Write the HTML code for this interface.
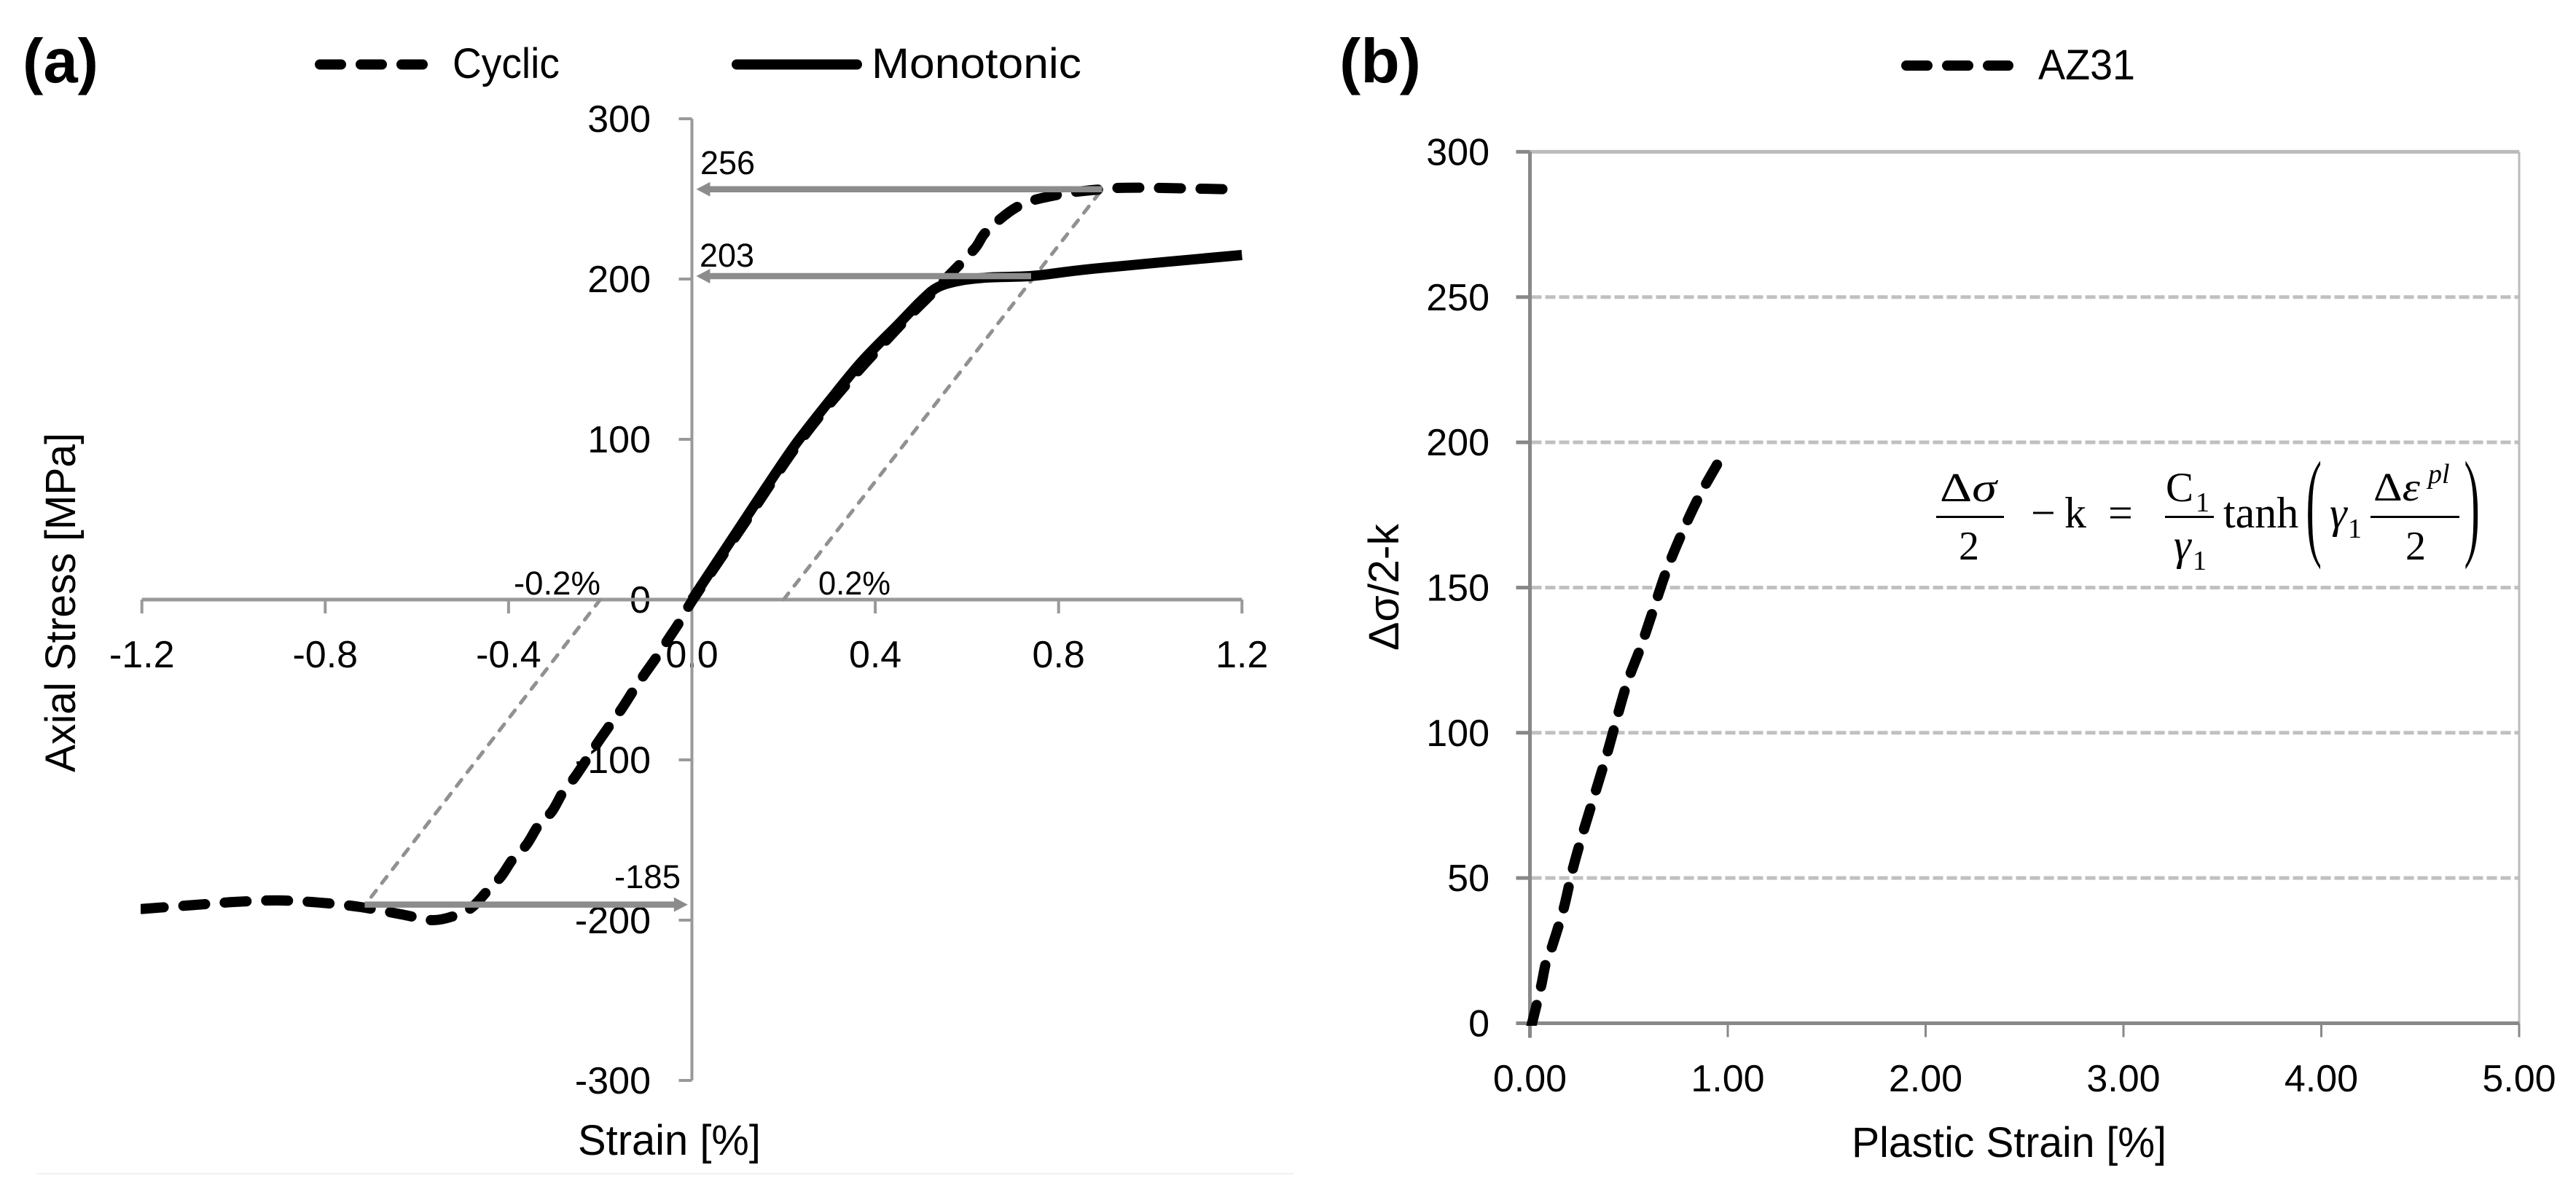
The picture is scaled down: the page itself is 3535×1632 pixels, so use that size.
<!DOCTYPE html>
<html lang="en">
<head>
<meta charset="utf-8">
<title>Axial stress-strain and plastic strain charts</title>
<style>
html,body{margin:0;padding:0;background:#fff;}
body{width:3535px;height:1632px;overflow:hidden;}
svg{display:block;}
text{font-family:"Liberation Sans",sans-serif;fill:#000;}
.eq text{font-family:"Liberation Serif",serif;}
</style>
</head>
<body>
<svg id="fig" xmlns="http://www.w3.org/2000/svg" width="3535" height="1632" viewBox="0 0 3535 1632">
  <defs>
    <clipPath id="clipCyclic"><rect x="193" y="0" width="1600" height="1632"/></clipPath>
    <clipPath id="clipAz31"><rect x="2000" y="0" width="800" height="1408"/></clipPath>
  </defs>
  <rect x="0" y="0" width="3535" height="1632" fill="#fff"/>
  <line x1="50" y1="1611" x2="1776" y2="1611" stroke="#f0f0f0" stroke-width="2"/>

  <g id="panelA"></g>
  <g id="panelB"></g>

  <text x="31" y="113" font-size="85" font-weight="700" textLength="104" lengthAdjust="spacingAndGlyphs">(a)</text>
  <text x="1838" y="113" font-size="85" font-weight="700" textLength="112" lengthAdjust="spacingAndGlyphs">(b)</text>

  <g>
    <path d="M439 88.5H580" fill="none" stroke="#000" stroke-width="14" stroke-linecap="round" stroke-dasharray="29 27"/>
    <text x="621" y="107" font-size="58" textLength="147" lengthAdjust="spacingAndGlyphs">Cyclic</text>
    <path d="M1011 88.5H1176" fill="none" stroke="#000" stroke-width="14" stroke-linecap="round"/>
    <text x="1196" y="107" font-size="58" textLength="288" lengthAdjust="spacingAndGlyphs">Monotonic</text>
  </g>
  <g>
    <path d="M2616 90H2756" fill="none" stroke="#000" stroke-width="14" stroke-linecap="round" stroke-dasharray="29 27"/>
    <text x="2797" y="109" font-size="58" textLength="133" lengthAdjust="spacingAndGlyphs">AZ31</text>
  </g>

  <text x="793" y="1585" font-size="58" textLength="251" lengthAdjust="spacingAndGlyphs">Strain [%]</text>
  <text transform="translate(103 1060) rotate(-90)" font-size="58" textLength="466" lengthAdjust="spacingAndGlyphs">Axial Stress [MPa]</text>
  <text x="2541" y="1588" font-size="58" textLength="432" lengthAdjust="spacingAndGlyphs">Plastic Strain [%]</text>
  <text transform="translate(1919 893) rotate(-90)" font-size="58" textLength="174" lengthAdjust="spacingAndGlyphs">Δσ/2-k</text>

  <text x="961" y="239" font-size="45">256</text>
  <text x="960" y="366" font-size="45">203</text>
  <text x="843" y="1219" font-size="45" textLength="91" lengthAdjust="spacingAndGlyphs">-185</text>
  <text x="705" y="816" font-size="45" textLength="119" lengthAdjust="spacingAndGlyphs">-0.2%</text>
  <text x="1123" y="816" font-size="45" textLength="99" lengthAdjust="spacingAndGlyphs">0.2%</text>

  <g class="eq">
    <text x="2662" y="688" font-size="56" textLength="78" lengthAdjust="spacingAndGlyphs">Δ<tspan font-style="italic">σ</tspan></text>
    <rect x="2657" y="708" width="93" height="3" fill="#000"/>
    <text x="2688" y="768" font-size="56">2</text>
    <text x="2787" y="724" font-size="60">−</text>
    <text x="2833" y="724" font-size="60">k</text>
    <text x="2893" y="724" font-size="60">=</text>
    <text x="2972" y="688" font-size="57">C</text>
    <text x="3013" y="702" font-size="38">1</text>
    <rect x="2971" y="708" width="67" height="3" fill="#000"/>
    <text x="2983" y="768" font-size="60" font-style="italic">γ</text>
    <text x="3009" y="782" font-size="38">1</text>
    <text x="3051" y="724" font-size="60">tanh</text>
    <text transform="translate(3164 747) scale(1.12 2.77)" font-size="60" stroke="#fff" stroke-width="0.4">(</text>
    <text x="3197" y="724" font-size="60" font-style="italic">γ</text>
    <text x="3222" y="738" font-size="38">1</text>
    <text x="3257" y="687" font-size="55" textLength="64" lengthAdjust="spacingAndGlyphs">Δ<tspan font-style="italic">ε</tspan></text>
    <text x="3332" y="663" font-size="38" font-style="italic">pl</text>
    <rect x="3253" y="708" width="122" height="3" fill="#000"/>
    <text x="3301" y="768" font-size="56">2</text>
    <text transform="translate(3381 747) scale(1.12 2.77)" font-size="60" stroke="#fff" stroke-width="0.4">)</text>
  </g>
</svg>

<script>
// ---- Panel (a) data ----
const strainTicks = [-1.2, -0.8, -0.4, 0, 0.4, 0.8, 1.2];
const strainTickLabels = ['-1.2', '-0.8', '-0.4', '0.0', '0.4', '0.8', '1.2'];
const stressTicks = [300, 200, 100, 0, -100, -200, -300];
const stressTickLabels = ['300', '200', '100', '0', '-100', '-200', '-300'];
const cyclicStrain = [-1.2, -1.085, -0.995, -0.905, -0.814, -0.723, -0.633, -0.566, -0.515, -0.48, -0.447, -0.417, -0.391, -0.361, -0.335, -0.305, -0.281, -0.256, -0.229, -0.205, -0.178, -0.153, -0.126, -0.102, -0.075, -0.05, -0.027, 0, 0.118, 0.229, 0.33, 0.451, 0.52, 0.56, 0.617, 0.644, 0.716, 0.806, 0.895, 0.968, 1.173];
const cyclicStress = [-193, -190.5, -188.6, -187.7, -189, -191.8, -196.4, -200, -197, -192, -182, -173, -162, -153, -141, -132, -120, -111, -99.5, -89, -78, -68, -56, -46, -35, -24, -14, -1, 49, 96, 132, 170, 190, 202, 219, 230, 246, 253, 256, 257, 256];
const monotonicStrain = [0, 0.0625, 0.118, 0.169, 0.229, 0.307, 0.372, 0.451, 0.502, 0.537, 0.585, 0.649, 0.744, 0.878, 1.2];
const monotonicStress = [0, 27, 51, 73, 98, 126.5, 149, 172, 187, 195, 199, 201, 202, 206.5, 215];
const offsetRightStrain = [0.2, 0.895];
const offsetRightStress = [0, 256];
const offsetLeftStrain = [-0.2, -0.701];
const offsetLeftStress = [0, -186];
const arrowStress = [256, 201.8, -190.3];
const arrowFromStrain = [0.895, 0.74, -0.714];
const arrowToStrain = [0.0095, 0.0095, -0.009];

// ---- Panel (b) data ----
const plasticTicks = [0, 1, 2, 3, 4, 5];
const plasticTickLabels = ['0.00', '1.00', '2.00', '3.00', '4.00', '5.00'];
const rangeTicks = [300, 250, 200, 150, 100, 50, 0];
const rangeTickLabels = ['300', '250', '200', '150', '100', '50', '0'];
const plasticStrain = [0.007, 0.055, 0.08, 0.11, 0.17, 0.217, 0.273, 0.335, 0.394, 0.486, 0.56, 0.622, 0.69, 0.77, 0.857, 0.96];
const az31Stress = [-1, 12.3, 20.6, 26, 39.4, 53.2, 66.7, 80.5, 93.8, 116, 129.5, 142, 155.7, 169, 181.6, 194];

// ---- Axis functions ----
function xA(v) { return 949.5 + 629 * v; }
function yA(v) { return 823 - 2.2 * v; }
function xB(v) { return 2099.5 + 271.5 * v; }
function yB(v) { return 1404.5 - 3.987 * v; }

const NS = 'http://www.w3.org/2000/svg';
const panelA = document.getElementById('panelA');
const panelB = document.getElementById('panelB');

function mk(tag, parent, attrs) {
  const el = document.createElementNS(NS, tag);
  for (const k in attrs) el.setAttribute(k, attrs[k]);
  parent.appendChild(el);
  return el;
}

function smooth(pts) {
  let d = 'M' + pts[0][0].toFixed(1) + ' ' + pts[0][1].toFixed(1);
  for (let i = 0; i < pts.length - 1; i++) {
    const p0 = pts[Math.max(0, i - 1)];
    const p1 = pts[i];
    const p2 = pts[i + 1];
    const p3 = pts[Math.min(pts.length - 1, i + 2)];
    const c1x = p1[0] + (p2[0] - p0[0]) / 6;
    const c1y = p1[1] + (p2[1] - p0[1]) / 6;
    const c2x = p2[0] - (p3[0] - p1[0]) / 6;
    const c2y = p2[1] - (p3[1] - p1[1]) / 6;
    d += 'C' + c1x.toFixed(1) + ' ' + c1y.toFixed(1) + ' ' + c2x.toFixed(1) + ' ' + c2y.toFixed(1) + ' ' + p2[0].toFixed(1) + ' ' + p2[1].toFixed(1);
  }
  return d;
}

function toPts(xs, ys, fx, fy) {
  return xs.map(function (v, i) { return [fx(v), fy(ys[i])]; });
}

// ---- Panel (a) axes ----
strainTicks.forEach(function (t, i) {
  const tick = mk('line', panelA, { x1: xA(t), y1: yA(0), x2: xA(t), y2: yA(0) + 19, stroke: '#999', 'stroke-width': 4 });
  
  
  const label = mk('text', panelA, { x: xA(t), y: 916, 'font-size': 52, 'text-anchor': 'middle' });
  
  
  label.textContent = strainTickLabels[i];
});
stressTicks.forEach(function (t, i) {
  const tick = mk('line', panelA, { x1: xA(0) - 18, y1: yA(t), x2: xA(0), y2: yA(t), stroke: '#999', 'stroke-width': 4 });
  
  
  const label = mk('text', panelA, { x: 893, y: yA(t) + 18, 'font-size': 52, 'text-anchor': 'end' });
  
  
  label.textContent = stressTickLabels[i];
});
const xAxisA = mk('line', panelA, { x1: xA(-1.2), y1: yA(0), x2: xA(1.2), y2: yA(0), stroke: '#999', 'stroke-width': 5 });


const yAxisA = mk('line', panelA, { x1: xA(0), y1: yA(300), x2: xA(0), y2: yA(-300), stroke: '#999', 'stroke-width': 4 });



// ---- Panel (a) offset lines ----
const offsetRight = mk('path', panelA, { d: smooth(toPts(offsetRightStrain, offsetRightStress, xA, yA)), fill: 'none', stroke: '#919191', 'stroke-width': 5, 'stroke-linecap': 'round', 'stroke-dasharray': '11 13' });


const offsetLeft = mk('path', panelA, { d: smooth(toPts(offsetLeftStrain, offsetLeftStress, xA, yA)), fill: 'none', stroke: '#919191', 'stroke-width': 5, 'stroke-linecap': 'round', 'stroke-dasharray': '11 13' });



// ---- Panel (a) series ----
const cyclicLine = mk('path', panelA, { d: smooth(toPts(cyclicStrain, cyclicStress, xA, yA)), fill: 'none', stroke: '#000', 'stroke-width': 14, 'stroke-linecap': 'round', 'stroke-dasharray': '30 27', 'clip-path': 'url(#clipCyclic)' });


const monotonicLine = mk('path', panelA, { d: smooth(toPts(monotonicStrain, monotonicStress, xA, yA)), fill: 'none', stroke: '#000', 'stroke-width': 14 });



// ---- Panel (a) arrows ----
arrowStress.forEach(function (s, i) {
  const y = yA(s);
  const x1 = xA(arrowFromStrain[i]);
  const x2 = xA(arrowToStrain[i]);
  const dir = x2 > x1 ? 1 : -1;
  const shaft = mk('line', panelA, { x1: x1, y1: y, x2: x2 - dir * 14, y2: y, stroke: '#8c8c8c', 'stroke-width': 8.5 });
  
  
  const head = mk('polygon', panelA, { points: x2 + ',' + y + ' ' + (x2 - dir * 19) + ',' + (y - 10) + ' ' + (x2 - dir * 19) + ',' + (y + 10), fill: '#8c8c8c' });
  
  
});

// ---- Panel (b) axes and grid ----
rangeTicks.forEach(function (t, i) {
  if (t !== 0 && t !== 300) {
    const grid = mk('line', panelB, { x1: xB(0) + 2, y1: yB(t), x2: xB(5), y2: yB(t), stroke: '#c0c0c0', 'stroke-width': 5, 'stroke-dasharray': '14 5' });
    
    
  }
  const tick = mk('line', panelB, { x1: xB(0) - 19, y1: yB(t), x2: xB(0), y2: yB(t), stroke: '#888', 'stroke-width': 5 });
  
  
  const label = mk('text', panelB, { x: 2044, y: yB(t) + 18, 'font-size': 52, 'text-anchor': 'end' });
  
  
  label.textContent = rangeTickLabels[i];
});
const topBorder = mk('line', panelB, { x1: xB(0), y1: yB(300), x2: xB(5), y2: yB(300), stroke: '#bbb', 'stroke-width': 5 });


const rightBorder = mk('line', panelB, { x1: xB(5), y1: yB(300), x2: xB(5), y2: yB(0), stroke: '#bbb', 'stroke-width': 3 });


plasticTicks.forEach(function (t, i) {
  const tick = mk('line', panelB, { x1: xB(t), y1: yB(0), x2: xB(t), y2: yB(0) + 19, stroke: '#888', 'stroke-width': 3 });
  
  
  const label = mk('text', panelB, { x: xB(t), y: 1498, 'font-size': 52, 'text-anchor': 'middle' });
  
  
  label.textContent = plasticTickLabels[i];
});
const yAxisB = mk('line', panelB, { x1: xB(0), y1: yB(300), x2: xB(0), y2: yB(0) + 20, stroke: '#888', 'stroke-width': 5 });


const xAxisB = mk('line', panelB, { x1: xB(0), y1: yB(0), x2: xB(5), y2: yB(0), stroke: '#888', 'stroke-width': 5 });



// ---- Panel (b) series ----
const az31Line = mk('path', panelB, { d: smooth(toPts(plasticStrain, az31Stress, xB, yB)), fill: 'none', stroke: '#000', 'stroke-width': 14, 'stroke-linecap': 'round', 'stroke-dasharray': '30 26', 'clip-path': 'url(#clipAz31)' });


</script>
</body>
</html>
